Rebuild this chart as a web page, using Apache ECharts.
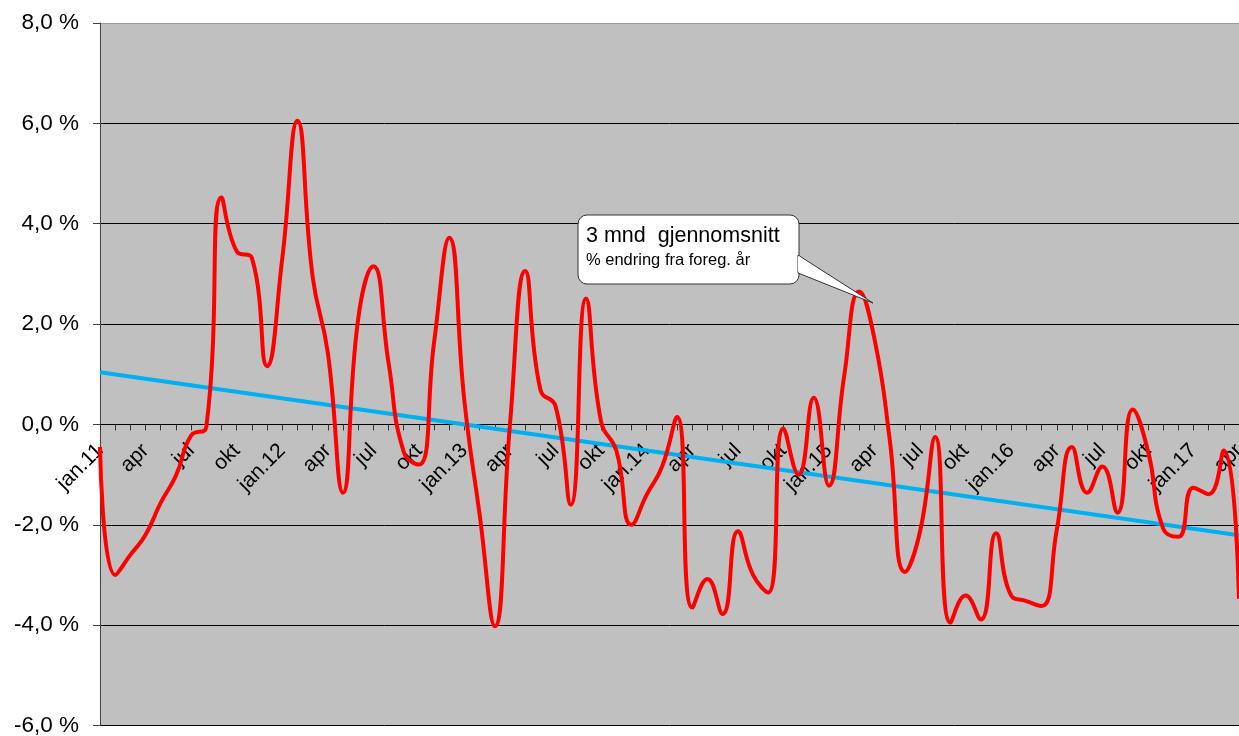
<!DOCTYPE html>
<html>
<head>
<meta charset="utf-8">
<script src="https://cdn.jsdelivr.net/npm/echarts@6/dist/echarts.min.js"></script>
<style>
html,body{margin:0;padding:0;background:#fff;}
#chart{width:1239px;height:736px;}
</style>
</head>
<body>
<div id="chart"></div>
<script>
// Month names used on the category axis (Norwegian)
const monthNames = ['jan','feb','mar','apr','mai','jun','jul','aug','sep','okt','nov','des'];
const years = ['11','12','13','14','15','16','17'];
const lastMonthIndex2017 = 3; // data runs to apr.17

// 3-month average, % change from previous year
const values2011 = [-0.45, -3.0, -2.6, -2.2, -1.56, -1.02, -0.22, -0.05, 4.52, 3.45, 3.32, 1.16];
const values2012 = [3.3, 6.05, 2.95, 1.43, -1.36, 2.1, 3.15, 1.23, -0.55, -0.8, 1.64, 3.72];
const values2013 = [0.45, -1.8, -4.02, 0.02, 3.06, 0.69, 0.36, -1.6, 2.51, 0.05, -0.52, -2.0];
const values2014 = [-1.4, -0.85, 0.15, -3.65, -3.08, -3.78, -2.13, -3.0, -3.35, -0.08, -1.0, 0.53];
const values2015 = [-1.22, 0.96, 2.65, 1.7, -0.3, -2.94, -2.13, -0.25, -3.95, -3.41, -3.89, -2.17];
const values2016 = [-3.41, -3.52, -3.62, -2.1, -0.45, -1.36, -0.84, -1.76, 0.30, -0.52, -2.07, -2.24];
const values2017 = [-1.26, -1.39, -0.52, -3.48];

// Linear trend line: value at first and last month
const trendStart = 1.04;
const trendEnd = -2.21;

// y-axis ticks
const yMin = -6, yMax = 8, yStep = 2;

const categories = [];
years.forEach((yy, yi) => {
  const nMonths = (yi === years.length - 1) ? lastMonthIndex2017 + 1 : 12;
  for (let m = 0; m < nMonths; m++) {
    categories.push(m === 0 ? 'jan.' + yy : monthNames[m]);
  }
});
const values = [].concat(values2011, values2012, values2013, values2014, values2015, values2016, values2017);
const trendData = [[0, trendStart], [categories.length - 1, trendEnd]];

const W = 1239, H = 736;
const gridTop = 23, gridBottom = 10.5, gridLeft = 100;
const gridH = H - gridTop - gridBottom;
// move the category axis (with its labels) up to the zero line
const xAxisOffset = -gridH * (0 - yMin) / (yMax - yMin);

// split line colours: all black, top border lighter
const nLines = (yMax - yMin) / yStep + 1;
const splitColors = [];
for (let k = 0; k < nLines; k++) splitColors.push(k === nLines - 1 ? '#9a9a9a' : '#000');

const chart = echarts.init(document.getElementById('chart'), null, {renderer: 'canvas'});
const FONT = '"Liberation Sans", Arial, sans-serif';

chart.setOption({
  animation: false,
  backgroundColor: '#ffffff',
  grid: {
    left: gridLeft, right: 0, top: gridTop, bottom: gridBottom,
    outerBoundsMode: 'none', containLabel: false,
    show: true, backgroundColor: '#c0c0c0', borderWidth: 0
  },
  xAxis: {
    type: 'category',
    data: categories,
    boundaryGap: false,
    position: 'bottom',
    offset: xAxisOffset,
    axisLine: {onZero: false, lineStyle: {color: '#000', width: 1}},
    axisTick: {show: true, interval: 0, length: 6, lineStyle: {color: '#333'}},
    axisLabel: {
      interval: 2, rotate: 45, margin: 23,
      fontFamily: FONT, fontSize: 21, color: '#000',
      hideOverlap: false
    },
    splitLine: {show: false}
  },
  yAxis: {
    type: 'value',
    min: yMin, max: yMax, interval: yStep,
    axisLine: {show: true, lineStyle: {color: '#404040', width: 1}},
    axisTick: {show: true, length: 7, lineStyle: {color: '#404040'}},
    axisLabel: {
      margin: 21, fontFamily: FONT, fontSize: 22.5, color: '#000',
      formatter: v => v.toFixed(1).replace('.', ',') + ' %'
    },
    splitLine: {show: true, lineStyle: {color: splitColors, width: 1}}
  },
  series: [
    {
      type: 'line', data: trendData, symbol: 'none',
      lineStyle: {color: '#00b0f0', width: 4}, z: 2
    },
    {
      type: 'line', data: values, symbol: 'none', smooth: 0.5,
      lineStyle: {color: '#ff0000', width: 4}, z: 3
    }
  ],
  graphic: [
    {
      type: 'rect', z: 100,
      shape: {x: 578, y: 215, width: 221, height: 69, r: 9},
      style: {fill: '#ffffff', stroke: '#333', lineWidth: 1}
    },
    {
      type: 'polygon', z: 101,
      shape: {points: [[798, 255], [873, 303], [798, 273]]},
      style: {fill: '#ffffff', stroke: '#333', lineWidth: 1}
    },
    {
      type: 'line', z: 102,
      shape: {x1: 799, y1: 256.5, x2: 799, y2: 271.5},
      style: {stroke: '#ffffff', lineWidth: 2}
    },
    {
      type: 'text', z: 103, left: 586, top: 225,
      style: {text: '3 mnd  gjennomsnitt', font: '21.5px ' + FONT, fill: '#000'}
    },
    {
      type: 'text', z: 103, left: 586, top: 252,
      style: {text: '% endring fra foreg. år', font: '16.5px ' + FONT, fill: '#000'}
    }
  ]
});
</script>
</body>
</html>
